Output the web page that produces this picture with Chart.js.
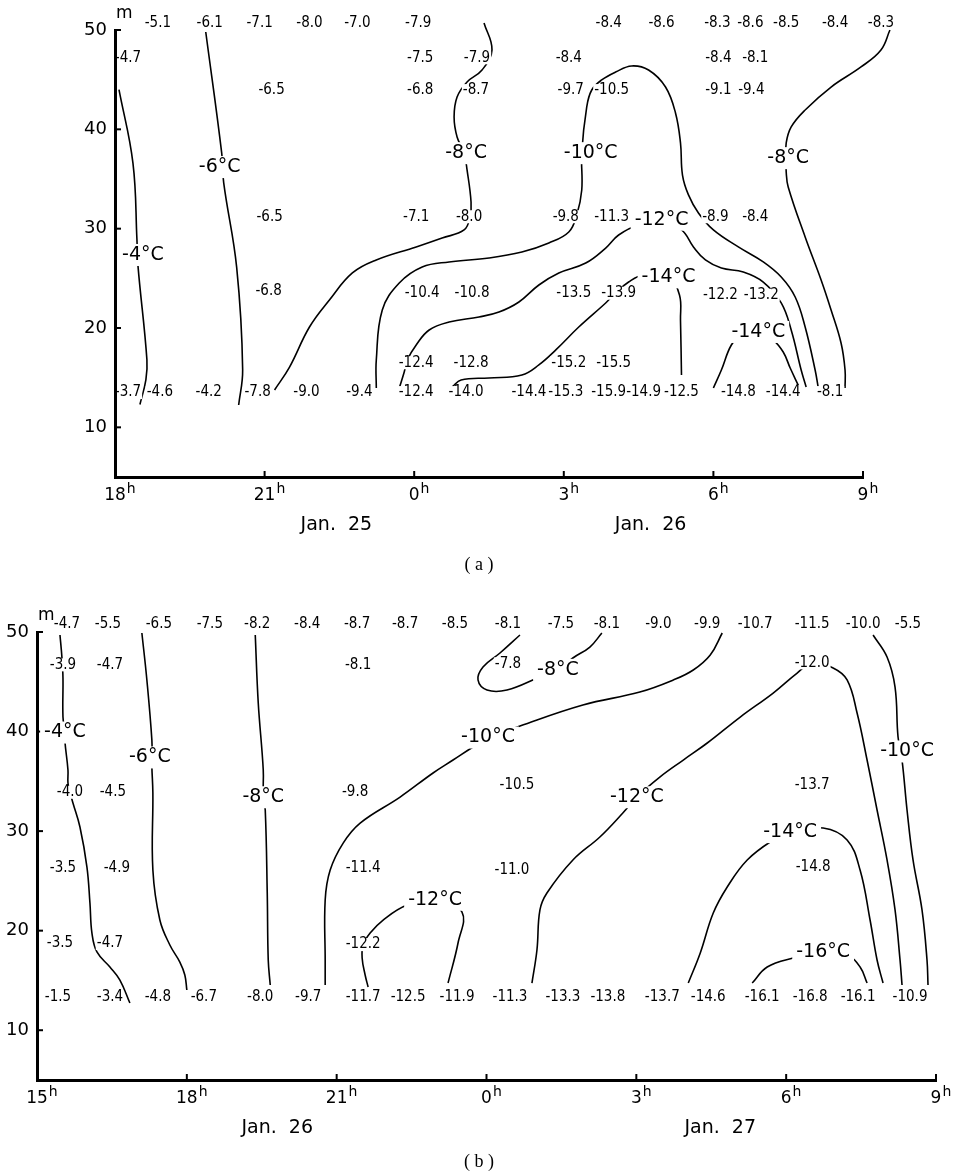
<!DOCTYPE html>
<html lang="en">
<head>
<meta charset="UTF-8">
<title>Isotherms</title>
<script src="https://cdn.jsdelivr.net/npm/chart.js"></script>
<style>
    body { margin: 0; background: #fff; }
    .panel { width: 958px; height: 587px; }
    canvas { display: block; }
</style>
</head>
<body>
<div class="panel"><canvas id="chartA" width="958" height="587"></canvas></div>
<div class="panel"><canvas id="chartB" width="958" height="587"></canvas></div>
<script>
// ---- shared axes ----
const heightTicks = [10, 20, 30, 40, 50];

// ---- panel (a): Jan 25-26, hours since 18h ----
const aHourTicks = [0, 3, 6, 9, 12, 15];
const aHourLabels = ['18', '21', '0', '3', '6', '9'];
const aDates = [[4.44, 'Jan.  25'], [10.74, 'Jan.  26']];

// [hour, height m, temperature]
const aReadings = [
    [0.86, 50.7, -5.1], [1.9, 50.7, -6.1], [2.9, 50.7, -7.1], [3.9, 50.7, -8.0], [4.86, 50.7, -7.0],
    [6.08, 50.7, -7.9], [9.9, 50.7, -8.4], [10.96, 50.7, -8.6], [12.08, 50.7, -8.3], [12.74, 50.7, -8.6],
    [13.46, 50.7, -8.5], [14.44, 50.7, -8.4], [15.36, 50.7, -8.3],
    [0.26, 47.2, -4.7], [6.12, 47.2, -7.5], [7.26, 47.2, -7.9], [9.1, 47.2, -8.4], [12.1, 47.2, -8.4], [12.84, 47.2, -8.1],
    [3.14, 43.9, -6.5], [6.12, 43.9, -6.8], [7.24, 43.9, -8.7], [9.14, 43.9, -9.7], [9.96, 43.9, -10.5],
    [12.1, 43.9, -9.1], [12.76, 43.9, -9.4],
    [3.1, 31.2, -6.5], [6.04, 31.2, -7.1], [7.1, 31.2, -8.0], [9.04, 31.2, -9.8], [9.96, 31.2, -11.3],
    [12.04, 31.2, -8.9], [12.84, 31.2, -8.4],
    [3.08, 23.7, -6.8], [6.16, 23.5, -10.4], [7.16, 23.5, -10.8], [9.2, 23.5, -13.5], [10.1, 23.5, -13.9],
    [12.14, 23.3, -12.2], [12.96, 23.3, -13.2],
    [6.04, 16.5, -12.4], [7.14, 16.5, -12.8], [9.1, 16.5, -15.2], [10.0, 16.5, -15.5],
    [0.26, 13.5, -3.7], [0.9, 13.5, -4.6], [1.88, 13.5, -4.2], [2.86, 13.5, -7.8], [3.84, 13.5, -9.0],
    [4.9, 13.5, -9.4], [6.04, 13.5, -12.4], [7.04, 13.5, -14.0], [8.3, 13.5, -14.4], [9.04, 13.5, -15.3],
    [9.9, 13.5, -15.9], [10.6, 13.5, -14.9], [11.36, 13.5, -12.5], [12.5, 13.5, -14.8], [13.4, 13.5, -14.4],
    [14.34, 13.5, -8.1]
];

// isotherm labels [hour, height, °C]
const aIsoLabels = [
    [0.56, 27.35, -4], [2.1, 36.2, -6], [7.04, 37.6, -8], [9.54, 37.6, -10], [13.5, 37.1, -8],
    [10.96, 30.9, -12], [11.1, 25.1, -14], [12.9, 19.6, -14]
];

// isotherm lines [hour, height]
const aIso4 = [[0.08, 44.0], [0.36, 36.6], [0.44, 28.9], [0.46, 26.3], [0.64, 16.8], [0.62, 14.8], [0.5, 12.3]];
const aIso6 = [[1.82, 49.8], [2.14, 37.6], [2.18, 34.6], [2.44, 26.1], [2.56, 15.8], [2.48, 12.25]];
const aIso8L = [[7.4, 50.71], [7.56, 47.99], [7.36, 45.97], [7.06, 44.77], [6.86, 43.26], [6.8, 41.24],
    [6.86, 39.23], [7.0, 37.62], [7.06, 35.91], [7.14, 32.69], [7.12, 31.2], [7.0, 29.87], [6.56, 29.06],
    [6.04, 28.16], [5.24, 26.85], [4.76, 25.54], [4.3, 22.82], [3.9, 20.1], [3.5, 16.07], [3.2, 13.76]];
const aIso10 = [[5.24, 13.96], [5.24, 16.78], [5.36, 21.81], [5.7, 24.53], [6.16, 26.14], [6.7, 26.65],
    [7.5, 27.05], [8.16, 27.65], [8.7, 28.56], [9.1, 29.67], [9.26, 31.38], [9.36, 33.89], [9.36, 37.62],
    [9.46, 42.25], [9.56, 43.96], [9.76, 44.97], [10.04, 45.77], [10.36, 46.38], [10.7, 45.97], [11.04, 44.26],
    [11.24, 41.65], [11.34, 38.63], [11.38, 35.4], [11.5, 33.4], [11.7, 31.58], [12.0, 29.87], [12.5, 28.16],
    [13.0, 26.65], [13.36, 25.13], [13.64, 23.12], [13.84, 20.1], [14.04, 15.77], [14.1, 14.06]];
const aIso12 = [[5.7, 13.96], [5.8, 15.57], [5.86, 16.78], [6.04, 18.29], [6.3, 19.8], [6.7, 20.6], [7.3, 21.11],
    [7.7, 21.61], [8.1, 22.62], [8.5, 24.33], [8.9, 25.54], [9.44, 26.54], [9.84, 28.05], [10.1, 29.36],
    [10.5, 30.37], [10.96, 30.6], [11.36, 29.87], [11.6, 28.16], [11.84, 26.85], [12.16, 26.04], [12.6, 25.64],
    [13.0, 24.63], [13.36, 22.52], [13.56, 19.8], [13.76, 15.77], [13.86, 14.06]];
const aIso14 = [[6.76, 14.06], [6.94, 14.77], [7.5, 14.97], [8.16, 15.27], [8.5, 16.28], [8.84, 17.79],
    [9.3, 20.1], [9.84, 22.52], [10.04, 23.52], [10.3, 24.63], [10.6, 25.34], [11.1, 25.1], [11.32, 23.32],
    [11.34, 20.81], [11.36, 15.27]];
const aIso14b = [[12.0, 13.96], [12.16, 15.77], [12.36, 18.29], [12.54, 19.09], [12.9, 19.6], [13.2, 18.79],
    [13.4, 17.58], [13.54, 15.97], [13.7, 14.26]];
const aIso8R = [[15.54, 50.0], [15.36, 47.99], [14.96, 46.28], [14.36, 44.26], [13.84, 41.95], [13.56, 40.24],
    [13.46, 38.63], [13.46, 37.1], [13.46, 35.71], [13.5, 34.2], [13.84, 29.16], [14.16, 24.83], [14.36, 21.81],
    [14.56, 18.49], [14.64, 15.77], [14.64, 13.96]];

// ---- panel (b): Jan 26-27, hours since 15h ----
const bHourTicks = [0, 3, 6, 9, 12, 15, 18];
const bHourLabels = ['15', '18', '21', '0', '3', '6', '9'];
const bDates = [[4.81, 'Jan.  26'], [13.68, 'Jan.  27']];

const bReadings = [
    [0.6, 50.8, -4.7], [1.42, 50.8, -5.5], [2.44, 50.8, -6.5], [3.46, 50.8, -7.5], [4.41, 50.8, -8.2],
    [5.41, 50.8, -8.4], [6.41, 50.8, -8.7], [7.37, 50.8, -8.7], [8.37, 50.8, -8.5], [9.43, 50.8, -8.1],
    [10.49, 50.8, -7.5], [11.41, 50.8, -8.1], [12.44, 50.8, -9.0], [13.42, 50.8, -9.9], [14.38, 50.8, -10.7],
    [15.52, 50.8, -11.5], [16.54, 50.8, -10.0], [17.44, 50.8, -5.5],
    [0.52, 46.7, -3.9], [1.46, 46.7, -4.7], [6.43, 46.7, -8.1], [9.43, 46.8, -7.8], [15.52, 46.9, -12.0],
    [0.66, 33.9, -4.0], [1.52, 33.9, -4.5], [6.37, 33.9, -9.8], [9.61, 34.6, -10.5], [15.52, 34.6, -13.7],
    [0.52, 26.3, -3.5], [1.6, 26.3, -4.9], [6.53, 26.3, -11.4], [9.51, 26.1, -11.0], [15.54, 26.4, -14.8],
    [0.46, 18.7, -3.5], [1.46, 18.7, -4.7], [6.53, 18.6, -12.2],
    [0.42, 13.3, -1.5], [1.46, 13.3, -3.4], [2.42, 13.3, -4.8], [3.34, 13.3, -6.7], [4.47, 13.3, -8.0],
    [5.43, 13.3, -9.7], [6.53, 13.3, -11.7], [7.43, 13.3, -12.5], [8.41, 13.3, -11.9], [9.47, 13.3, -11.3],
    [10.53, 13.3, -13.3], [11.43, 13.3, -13.8], [12.52, 13.3, -13.7], [13.44, 13.3, -14.6], [14.52, 13.3, -16.1],
    [15.48, 13.3, -16.8], [16.44, 13.3, -16.1], [17.48, 13.3, -10.9]
];

const bIsoLabels = [
    [0.56, 39.9, -4], [2.26, 37.4, -6], [4.53, 33.4, -8], [10.43, 46.2, -8], [9.03, 39.4, -10],
    [17.42, 38.0, -10], [7.97, 23.1, -12], [12.01, 33.4, -12], [15.08, 29.9, -14], [15.74, 17.9, -16]
];

const bIso4 = [[0.46, 49.7], [0.5, 47.39], [0.52, 45.38], [0.52, 41.46], [0.56, 39.85], [0.56, 38.95],
    [0.62, 36.14], [0.62, 34.83], [0.66, 33.93], [0.72, 32.82], [0.86, 30.41], [1.0, 26.39], [1.06, 22.78],
    [1.1, 19.76], [1.2, 17.86], [1.46, 16.35], [1.66, 15.04], [1.86, 12.73]];
const bIso6 = [[2.1, 49.9], [2.2, 45.18], [2.3, 39.15], [2.3, 37.44], [2.3, 36.44], [2.32, 33.83], [2.32, 26.09],
    [2.46, 21.07], [2.66, 18.56], [2.86, 16.85], [2.96, 15.55], [3.0, 14.04]];
const bIso8 = [[4.37, 49.7], [4.43, 42.87], [4.53, 36.14], [4.53, 33.42], [4.57, 32.12], [4.61, 23.78],
    [4.63, 17.05], [4.67, 14.54]];
const bIso10 = [[5.77, 14.54], [5.77, 17.05], [5.77, 23.08], [5.87, 26.09], [6.13, 28.8], [6.47, 30.81],
    [7.27, 33.42], [7.93, 35.84], [8.33, 37.14], [8.73, 38.45], [9.03, 39.35], [9.67, 40.56], [10.93, 42.67],
    [12.07, 43.97], [12.74, 45.18], [13.14, 46.18], [13.48, 47.69], [13.72, 49.9]];
const bIso8Loop = [[9.67, 49.7], [9.27, 47.89], [8.93, 46.48], [8.83, 45.18], [9.01, 44.17], [9.41, 44.17],
    [10.07, 45.48], [10.43, 46.18], [10.73, 47.39], [11.07, 48.49], [11.31, 49.9]];
const bIso10R = [[16.74, 49.7], [17.02, 47.49], [17.18, 44.47], [17.24, 39.45], [17.32, 37.14], [17.42, 32.12],
    [17.54, 27.1], [17.72, 22.08], [17.82, 17.05], [17.84, 14.54]];
const bIso12 = [[9.91, 14.74], [10.01, 18.06], [10.07, 22.08], [10.21, 23.78], [10.73, 27.1], [11.27, 29.41],
    [11.73, 31.82], [12.01, 33.42], [12.47, 35.43], [12.94, 37.14], [13.42, 38.85], [14.08, 41.46],
    [14.74, 43.87], [15.22, 45.88], [15.52, 46.88], [15.94, 46.38], [16.22, 45.18], [16.42, 41.86],
    [16.62, 37.14], [16.82, 32.12], [17.02, 27.1], [17.18, 22.08], [17.28, 17.05], [17.32, 14.54]];
const bIso14 = [[13.04, 14.74], [13.28, 17.76], [13.54, 21.77], [13.82, 24.39], [14.22, 27.1], [14.74, 29.11],
    [15.08, 29.91], [15.74, 30.31], [16.22, 29.11], [16.48, 26.09], [16.68, 21.07], [16.82, 17.05], [16.94, 14.74]];
const bIso16 = [[14.32, 14.74], [14.62, 16.35], [15.14, 17.25], [15.74, 17.86], [16.22, 17.56], [16.48, 16.35],
    [16.62, 14.74]];
const bIso12s = [[6.63, 14.34], [6.57, 15.55], [6.51, 17.25], [6.53, 18.56], [6.67, 19.76], [6.93, 21.07],
    [7.41, 22.58], [7.97, 23.08], [8.51, 21.87], [8.43, 18.76], [8.23, 14.74]];

const SANS = '"DejaVu Sans", sans-serif';
const NARROW = '"DejaVu Sans Condensed", "DejaVu Sans", sans-serif';
const TICK_FONT = 17;

// labels, dates, inward ticks, captions
const annotate = {
    id: 'annotate',
    afterDraw(chart, args, o) {
        const { ctx, chartArea: area, scales: { x, y } } = chart;
        ctx.save();
        ctx.strokeStyle = '#000';
        ctx.lineWidth = 2;
        x.ticks.forEach(t => {
            const px = x.getPixelForValue(t.value);
            ctx.beginPath(); ctx.moveTo(px, area.bottom); ctx.lineTo(px, area.bottom - 6); ctx.stroke();
        });
        y.ticks.forEach(t => {
            const py = y.getPixelForValue(t.value);
            ctx.beginPath(); ctx.moveTo(area.left, py); ctx.lineTo(area.left + 6, py); ctx.stroke();
        });

        // superscript "h" after each hour label
        ctx.fillStyle = '#000';
        ctx.textBaseline = 'top';
        ctx.textAlign = 'left';
        x.ticks.forEach(t => {
            ctx.font = TICK_FONT + 'px ' + SANS;
            const w = ctx.measureText(t.label).width;
            ctx.font = '14px ' + SANS;
            ctx.fillText('h', x.getPixelForValue(t.value) + w / 2 + 1, area.bottom + 5);
        });

        ctx.textAlign = 'center';
        ctx.textBaseline = 'middle';
        const label = (s, px, py, pad, h) => {
            const w = ctx.measureText(s).width;
            const left = Math.max(px - w / 2 - pad, area.left + 3);
            ctx.fillStyle = '#fff';
            ctx.fillRect(left, py - h / 2, px + w / 2 + pad - left, h);
            ctx.fillStyle = '#000';
            ctx.fillText(s, px, py);
        };

        ctx.font = '15px ' + NARROW;
        o.readings.forEach(([h, m, v]) => label(v.toFixed(1), x.getPixelForValue(h), y.getPixelForValue(m), 1, 13));

        ctx.font = '19px ' + SANS;
        o.isoLabels.forEach(([h, m, t]) => label(t + '°C', x.getPixelForValue(h), y.getPixelForValue(m), 4, 22));

        ctx.font = '19px ' + SANS;
        o.dates.forEach(([h, s]) => ctx.fillText(s, x.getPixelForValue(h), area.bottom + 48));

        ctx.font = '17px ' + SANS;
        ctx.textAlign = 'left';
        ctx.fillText('m', area.left + 1, area.top - 16);

        ctx.font = '18px "Liberation Serif", serif';
        ctx.textAlign = 'center';
        ctx.fillText(o.caption, 479, area.bottom + o.captionGap);
        ctx.restore();
    }
};

function buildChart(id, p) {
    const datasets = p.lines.map(pts => ({
        data: pts.map(([h, m]) => ({ x: h, y: m })),
        showLine: true,
        borderColor: '#000',
        borderWidth: 1.6,
        pointRadius: 0,
        tension: 0.4,
        fill: false,
        clip: false
    }));
    return new Chart(document.getElementById(id), {
        type: 'scatter',
        data: { datasets },
        options: {
            responsive: false,
            animation: false,
            events: [],
            layout: { padding: { top: p.top, right: p.right, left: 0, bottom: 0 } },
            scales: {
                x: {
                    type: 'linear',
                    min: p.hourTicks[0],
                    max: p.hourTicks[p.hourTicks.length - 1],
                    afterBuildTicks: s => { s.ticks = p.hourTicks.map(v => ({ value: v })); },
                    afterFit: s => { s.height = p.xAxisHeight; },
                    grid: { display: false, drawTicks: false },
                    border: { display: true, width: 3, color: '#000' },
                    ticks: {
                        autoSkip: false,
                        maxRotation: 0,
                        padding: 8,
                        color: '#000',
                        font: { family: SANS, size: TICK_FONT },
                        callback: v => p.hourLabels[p.hourTicks.indexOf(v)]
                    }
                },
                y: {
                    type: 'linear',
                    min: 5,
                    max: 50,
                    afterBuildTicks: s => { s.ticks = heightTicks.map(v => ({ value: v })); },
                    afterFit: s => { s.width = p.yAxisWidth; },
                    grid: { display: false, drawTicks: false },
                    border: { display: true, width: 3, color: '#000' },
                    ticks: {
                        padding: 8,
                        color: '#000',
                        font: { family: SANS, size: 18 },
                        callback: v => String(v)
                    }
                }
            },
            plugins: {
                legend: { display: false },
                tooltip: { enabled: false },
                annotate: {
                    readings: p.readings,
                    isoLabels: p.isoLabels,
                    dates: p.dates,
                    caption: p.caption,
                    captionGap: p.captionGap
                }
            }
        },
        plugins: [annotate]
    });
}

buildChart('chartA', {
    hourTicks: aHourTicks, hourLabels: aHourLabels, dates: aDates,
    readings: aReadings, isoLabels: aIsoLabels,
    lines: [aIso4, aIso6, aIso8L, aIso10, aIso12, aIso14, aIso14b, aIso8R],
    top: 30, right: 95, xAxisHeight: 110, yAxisWidth: 115,
    caption: '( a )', captionGap: 88
});

buildChart('chartB', {
    hourTicks: bHourTicks, hourLabels: bHourLabels, dates: bDates,
    readings: bReadings, isoLabels: bIsoLabels,
    lines: [bIso4, bIso6, bIso8, bIso10, bIso8Loop, bIso10R, bIso12, bIso14, bIso16, bIso12s],
    top: 45, right: 22, xAxisHeight: 94, yAxisWidth: 37,
    caption: '( b )', captionGap: 82
});
</script>
</body>
</html>
